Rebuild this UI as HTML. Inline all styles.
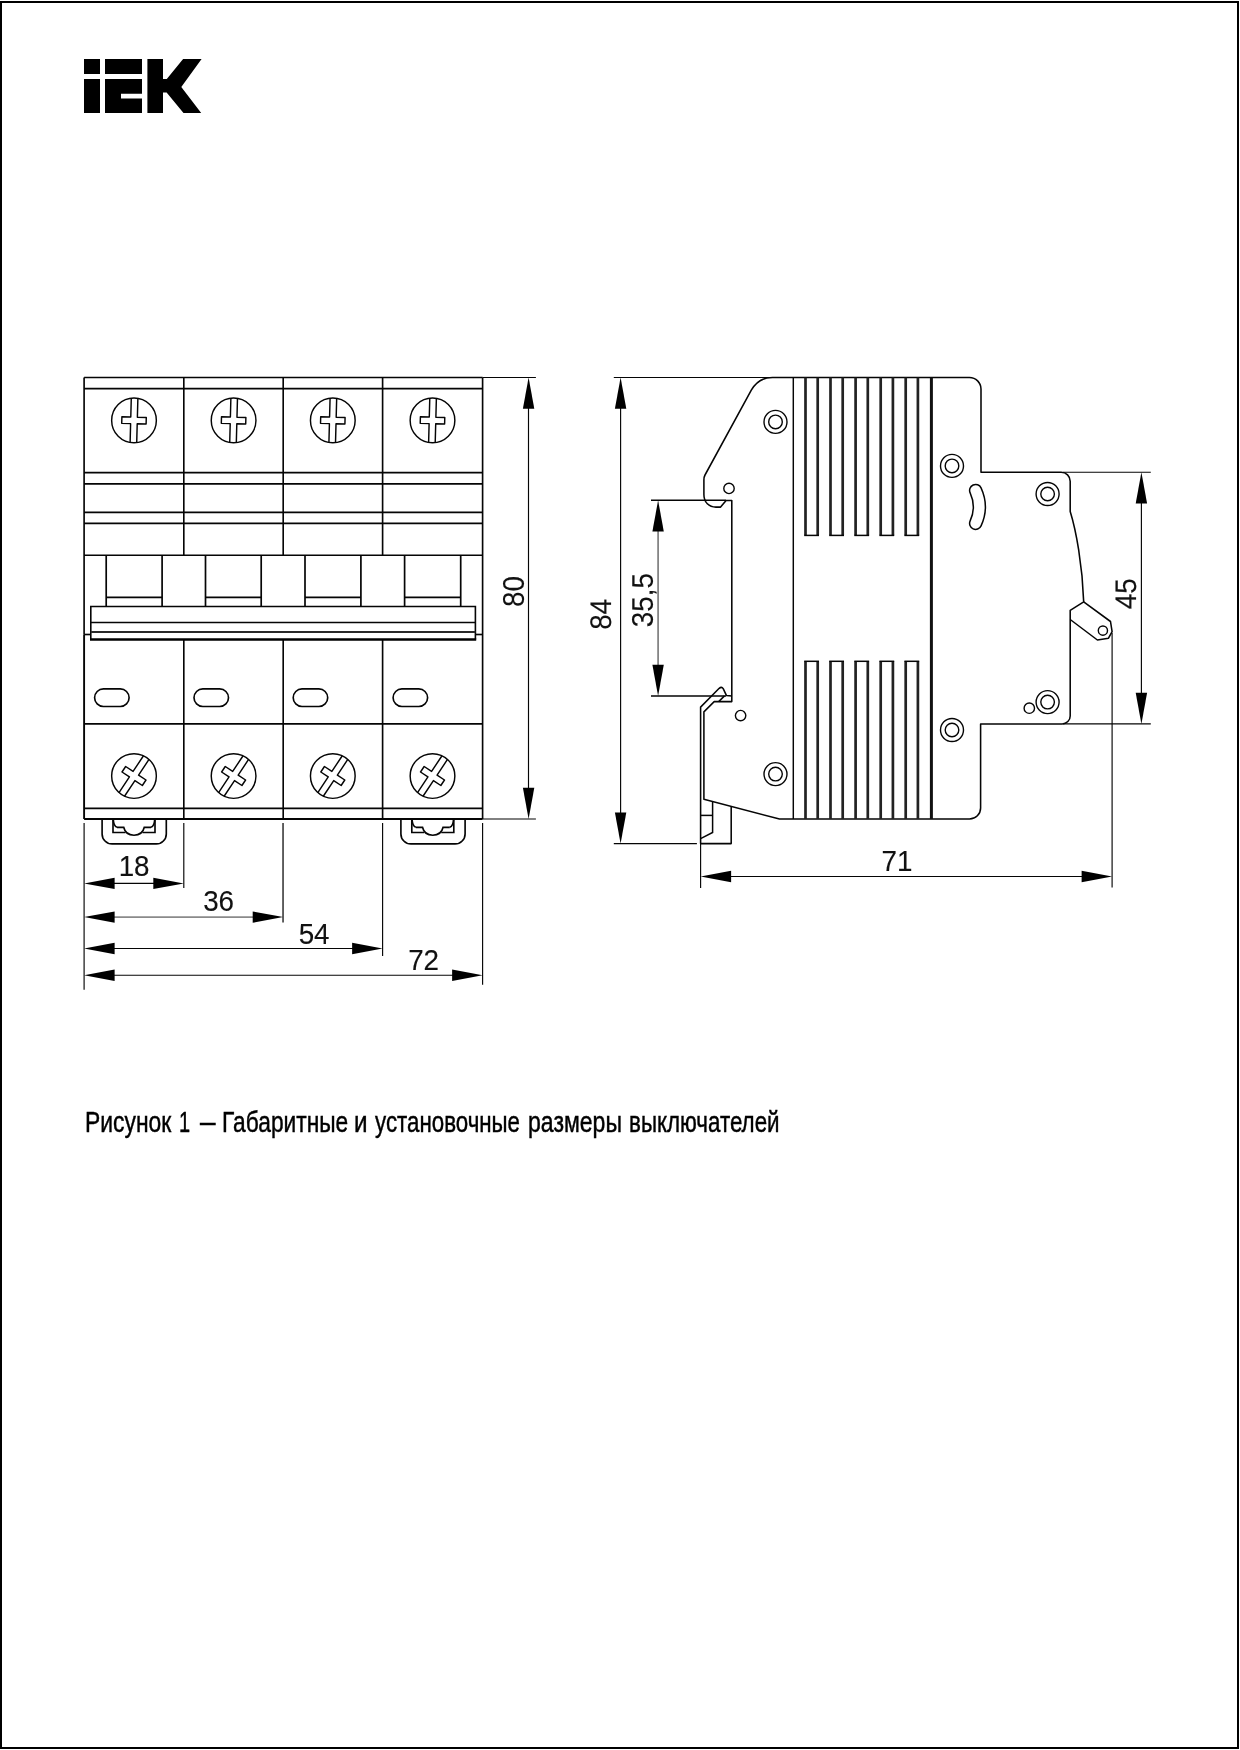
<!DOCTYPE html>
<html><head><meta charset="utf-8"><title>IEK</title>
<style>
html,body{margin:0;padding:0;background:#fff;}
body{width:1240px;height:1750px;position:relative;overflow:hidden;font-family:"Liberation Sans",sans-serif;}
.frame{position:absolute;left:0;top:1px;width:1235px;height:1744px;border:2px solid #000;border-left-width:2.5px;border-right-width:2.5px;}
.capline{position:absolute;left:0;top:1104.2px;width:1240px;height:36px;will-change:transform;}
.cap{position:absolute;top:0;font-size:28.6px;line-height:36px;color:#000;white-space:nowrap;transform-origin:0 0;-webkit-text-stroke:0.45px #000;}
svg{will-change:transform;}
</style></head><body>
<div class="frame"></div>
<svg width="1240" height="1750" viewBox="0 0 1240 1750" style="position:absolute;left:0;top:0">
<g font-family="'Liberation Sans', sans-serif" fill="#111" stroke-linecap="butt" stroke-linejoin="miter">
<g fill="#000">
<rect x="84" y="59" width="16" height="15"/>
<rect x="84" y="79" width="16" height="34"/>
<rect x="105" y="59" width="37" height="15"/>
<path d="M105,79 H142 V93.8 H121 V98.6 H142 V113 H105 Z"/>
<path d="M147.4,59 H163 V79 H166.8 L183.1,59 H201.6 L181.3,87.1 L201.2,113 H183.5 L166.6,92.4 H163 V113 H147.4 Z"/>
</g>
<line x1="84.1" y1="377.5" x2="482.6" y2="377.5" stroke="#050505" stroke-width="1.65" />
<line x1="84.1" y1="388.6" x2="482.6" y2="388.6" stroke="#050505" stroke-width="1.65" />
<line x1="84.1" y1="377.5" x2="84.1" y2="634.5" stroke="#050505" stroke-width="1.65" />
<line x1="84.1" y1="634.5" x2="84.1" y2="819.0" stroke="#050505" stroke-width="1.9" />
<line x1="482.6" y1="377.5" x2="482.6" y2="819.0" stroke="#050505" stroke-width="1.65" />
<line x1="183.8" y1="377.5" x2="183.8" y2="555.2" stroke="#050505" stroke-width="1.65" />
<line x1="183.8" y1="639.5" x2="183.8" y2="819.0" stroke="#050505" stroke-width="1.65" />
<line x1="283.2" y1="377.5" x2="283.2" y2="555.2" stroke="#050505" stroke-width="1.65" />
<line x1="283.2" y1="639.5" x2="283.2" y2="819.0" stroke="#050505" stroke-width="1.65" />
<line x1="382.6" y1="377.5" x2="382.6" y2="555.2" stroke="#050505" stroke-width="1.65" />
<line x1="382.6" y1="639.5" x2="382.6" y2="819.0" stroke="#050505" stroke-width="1.65" />
<line x1="84.1" y1="472.6" x2="482.6" y2="472.6" stroke="#050505" stroke-width="1.65" />
<line x1="84.1" y1="483.9" x2="482.6" y2="483.9" stroke="#050505" stroke-width="1.65" />
<line x1="84.1" y1="512.3" x2="482.6" y2="512.3" stroke="#050505" stroke-width="1.65" />
<line x1="84.1" y1="523.4" x2="482.6" y2="523.4" stroke="#050505" stroke-width="1.65" />
<line x1="84.1" y1="555.2" x2="482.6" y2="555.2" stroke="#050505" stroke-width="1.65" />
<line x1="84.1" y1="723.9" x2="482.6" y2="723.9" stroke="#050505" stroke-width="1.65" />
<line x1="84.1" y1="808.3" x2="482.6" y2="808.3" stroke="#050505" stroke-width="1.65" />
<line x1="84.1" y1="819.0" x2="482.6" y2="819.0" stroke="#050505" stroke-width="1.8" />
<line x1="106.2" y1="555.2" x2="106.2" y2="606.5" stroke="#050505" stroke-width="1.7" />
<line x1="162.1" y1="555.2" x2="162.1" y2="606.5" stroke="#050505" stroke-width="1.7" />
<line x1="106.2" y1="597.4" x2="162.1" y2="597.4" stroke="#050505" stroke-width="1.8" />
<line x1="205.5" y1="555.2" x2="205.5" y2="606.5" stroke="#050505" stroke-width="1.7" />
<line x1="261.2" y1="555.2" x2="261.2" y2="606.5" stroke="#050505" stroke-width="1.7" />
<line x1="205.5" y1="597.4" x2="261.2" y2="597.4" stroke="#050505" stroke-width="1.8" />
<line x1="305.0" y1="555.2" x2="305.0" y2="606.5" stroke="#050505" stroke-width="1.7" />
<line x1="360.9" y1="555.2" x2="360.9" y2="606.5" stroke="#050505" stroke-width="1.7" />
<line x1="305.0" y1="597.4" x2="360.9" y2="597.4" stroke="#050505" stroke-width="1.8" />
<line x1="404.6" y1="555.2" x2="404.6" y2="606.5" stroke="#050505" stroke-width="1.7" />
<line x1="460.7" y1="555.2" x2="460.7" y2="606.5" stroke="#050505" stroke-width="1.7" />
<line x1="404.6" y1="597.4" x2="460.7" y2="597.4" stroke="#050505" stroke-width="1.8" />
<path d="M90.8,639.6 V606.5 H475.4 V639.6" stroke="#050505" stroke-width="1.6" fill="none" />
<line x1="90.8" y1="622.4" x2="475.4" y2="622.4" stroke="#050505" stroke-width="1.5" />
<line x1="90.8" y1="631.9" x2="475.4" y2="631.9" stroke="#2a2a2a" stroke-width="2.0" />
<line x1="90.0" y1="639.5" x2="476.2" y2="639.5" stroke="#000" stroke-width="2.6" />
<line x1="84.1" y1="634.5" x2="90.8" y2="634.5" stroke="#050505" stroke-width="1.65" />
<line x1="475.4" y1="634.5" x2="482.6" y2="634.5" stroke="#050505" stroke-width="1.65" />
<rect x="94.6" y="688.9" width="34.5" height="17.6" rx="8.8" ry="8.8" fill="none" stroke="#050505" stroke-width="1.65"/>
<rect x="194.0" y="688.9" width="34.5" height="17.6" rx="8.8" ry="8.8" fill="none" stroke="#050505" stroke-width="1.65"/>
<rect x="293.2" y="688.9" width="34.5" height="17.6" rx="8.8" ry="8.8" fill="none" stroke="#050505" stroke-width="1.65"/>
<rect x="393.1" y="688.9" width="34.5" height="17.6" rx="8.8" ry="8.8" fill="none" stroke="#050505" stroke-width="1.65"/>
<circle cx="134.0" cy="420.4" r="22.35" stroke="#050505" stroke-width="1.45" fill="none"/>
<path d="M-3.3,-22.105033363467246 V-3.3 H-12.2 V3.3 H-3.3 V22.105033363467246 M3.3,-22.105033363467246 V-3.3 H12.2 V3.3 H3.3 V22.105033363467246" transform="translate(134.0 420.4) rotate(1.5)" stroke="#050505" stroke-width="1.45" fill="none" stroke-linejoin="round"/>
<circle cx="134.0" cy="776.0" r="22.35" stroke="#050505" stroke-width="1.45" fill="none"/>
<path d="M-3.3,-22.105033363467246 V-3.3 H-12.2 V3.3 H-3.3 V22.105033363467246 M3.3,-22.105033363467246 V-3.3 H12.2 V3.3 H3.3 V22.105033363467246" transform="translate(134.0 776.0) rotate(33.6)" stroke="#050505" stroke-width="1.45" fill="none" stroke-linejoin="round"/>
<circle cx="233.6" cy="420.4" r="22.35" stroke="#050505" stroke-width="1.45" fill="none"/>
<path d="M-3.3,-22.105033363467246 V-3.3 H-12.2 V3.3 H-3.3 V22.105033363467246 M3.3,-22.105033363467246 V-3.3 H12.2 V3.3 H3.3 V22.105033363467246" transform="translate(233.6 420.4) rotate(1.5)" stroke="#050505" stroke-width="1.45" fill="none" stroke-linejoin="round"/>
<circle cx="233.6" cy="776.0" r="22.35" stroke="#050505" stroke-width="1.45" fill="none"/>
<path d="M-3.3,-22.105033363467246 V-3.3 H-12.2 V3.3 H-3.3 V22.105033363467246 M3.3,-22.105033363467246 V-3.3 H12.2 V3.3 H3.3 V22.105033363467246" transform="translate(233.6 776.0) rotate(33.6)" stroke="#050505" stroke-width="1.45" fill="none" stroke-linejoin="round"/>
<circle cx="332.8" cy="420.4" r="22.35" stroke="#050505" stroke-width="1.45" fill="none"/>
<path d="M-3.3,-22.105033363467246 V-3.3 H-12.2 V3.3 H-3.3 V22.105033363467246 M3.3,-22.105033363467246 V-3.3 H12.2 V3.3 H3.3 V22.105033363467246" transform="translate(332.8 420.4) rotate(1.5)" stroke="#050505" stroke-width="1.45" fill="none" stroke-linejoin="round"/>
<circle cx="332.8" cy="776.0" r="22.35" stroke="#050505" stroke-width="1.45" fill="none"/>
<path d="M-3.3,-22.105033363467246 V-3.3 H-12.2 V3.3 H-3.3 V22.105033363467246 M3.3,-22.105033363467246 V-3.3 H12.2 V3.3 H3.3 V22.105033363467246" transform="translate(332.8 776.0) rotate(33.6)" stroke="#050505" stroke-width="1.45" fill="none" stroke-linejoin="round"/>
<circle cx="432.5" cy="420.4" r="22.35" stroke="#050505" stroke-width="1.45" fill="none"/>
<path d="M-3.3,-22.105033363467246 V-3.3 H-12.2 V3.3 H-3.3 V22.105033363467246 M3.3,-22.105033363467246 V-3.3 H12.2 V3.3 H3.3 V22.105033363467246" transform="translate(432.5 420.4) rotate(1.5)" stroke="#050505" stroke-width="1.45" fill="none" stroke-linejoin="round"/>
<circle cx="432.5" cy="776.0" r="22.35" stroke="#050505" stroke-width="1.45" fill="none"/>
<path d="M-3.3,-22.105033363467246 V-3.3 H-12.2 V3.3 H-3.3 V22.105033363467246 M3.3,-22.105033363467246 V-3.3 H12.2 V3.3 H3.3 V22.105033363467246" transform="translate(432.5 776.0) rotate(33.6)" stroke="#050505" stroke-width="1.45" fill="none" stroke-linejoin="round"/>
<path d="M102.1,819 V833.9 a10,10 0 0 0 10,10 H156.3 a10,10 0 0 0 10,-10 V819" stroke="#050505" stroke-width="1.65" fill="none" />
<path d="M113,819 V832.5 H125.6 M155,819 V832.5 H142.4" stroke="#050505" stroke-width="1.65" fill="none" />
<path d="M117,827.3 H123.7 C125,833 129,835.2 134,835.2 C139,835.2 143,833 144.3,827.3 H151" stroke="#050505" stroke-width="1.65" fill="none" />
<path d="M113.3,819.5 C113.5,823.5 114.5,826.5 117,827.3 M154.7,819.5 C154.5,823.5 153.5,826.5 151,827.3" stroke="#050505" stroke-width="1.65" fill="none" />
<path d="M400.9,819 V833.9 a10,10 0 0 0 10,10 H455.1 a10,10 0 0 0 10,-10 V819" stroke="#050505" stroke-width="1.65" fill="none" />
<path d="M411.8,819 V832.5 H424.4 M453.8,819 V832.5 H441.20000000000005" stroke="#050505" stroke-width="1.65" fill="none" />
<path d="M415.8,827.3 H422.5 C423.8,833 427.8,835.2 432.8,835.2 C437.8,835.2 441.8,833 443.1,827.3 H449.8" stroke="#050505" stroke-width="1.65" fill="none" />
<path d="M412.1,819.5 C412.3,823.5 413.3,826.5 415.8,827.3 M453.5,819.5 C453.3,823.5 452.3,826.5 449.8,827.3" stroke="#050505" stroke-width="1.65" fill="none" />
<line x1="482.6" y1="377.5" x2="535.9" y2="377.5" stroke="#050505" stroke-width="1.15" />
<line x1="482.6" y1="819.0" x2="535.9" y2="819.0" stroke="#050505" stroke-width="1.15" />
<line x1="528.5" y1="397.5" x2="528.5" y2="799.0" stroke="#050505" stroke-width="1.15" />
<polygon points="528.6,377.5 522.9,408.7 534.3000000000001,408.7" fill="#000"/>
<polygon points="528.6,819.0 522.9,787.8 534.3000000000001,787.8" fill="#000"/>
<text x="0" y="0" font-size="29.8" text-anchor="middle" stroke="#000" stroke-width="0.12" transform="translate(523.8 591.5) rotate(-89.9) scale(0.933 1)">80</text>
<line x1="84.1" y1="823" x2="84.1" y2="989.7" stroke="#050505" stroke-width="1.15" />
<line x1="183.8" y1="823" x2="183.8" y2="887.9" stroke="#050505" stroke-width="1.15" />
<line x1="283.05" y1="823" x2="283.05" y2="922.6" stroke="#5a5a5a" stroke-width="1.9" />
<line x1="382.6" y1="823" x2="382.6" y2="956" stroke="#050505" stroke-width="1.15" />
<line x1="482.6" y1="823" x2="482.6" y2="984.8" stroke="#050505" stroke-width="1.15" />
<line x1="104.1" y1="883.4" x2="163.8" y2="883.4" stroke="#050505" stroke-width="1.15" />
<polygon points="84.1,883.4 114.6,877.6999999999999 114.6,889.1" fill="#000"/>
<polygon points="183.8,883.4 153.3,877.6999999999999 153.3,889.1" fill="#000"/>
<text x="0" y="0" font-size="29.8" text-anchor="middle" stroke="#000" stroke-width="0.12" transform="translate(134.1 876.0) scale(0.933 1)">18</text>
<line x1="104.1" y1="917.1" x2="263.2" y2="917.1" stroke="#8a8a8a" stroke-width="1.8" />
<polygon points="84.1,917.1 114.6,911.4 114.6,922.8000000000001" fill="#000"/>
<polygon points="283.2,917.1 252.7,911.4 252.7,922.8000000000001" fill="#000"/>
<text x="0" y="0" font-size="29.8" text-anchor="middle" stroke="#000" stroke-width="0.12" transform="translate(218.6 911.4) scale(0.933 1)">36</text>
<line x1="104.1" y1="948.5" x2="362.6" y2="948.5" stroke="#050505" stroke-width="1.15" />
<polygon points="84.1,948.5 114.6,942.8 114.6,954.2" fill="#000"/>
<polygon points="382.6,948.5 352.1,942.8 352.1,954.2" fill="#000"/>
<text x="0" y="0" font-size="29.8" text-anchor="middle" stroke="#000" stroke-width="0.12" transform="translate(314.1 944.2) scale(0.933 1)">54</text>
<line x1="104.1" y1="975.2" x2="462.6" y2="975.2" stroke="#050505" stroke-width="1.15" />
<polygon points="84.1,975.2 114.6,969.5 114.6,980.9000000000001" fill="#000"/>
<polygon points="482.6,975.2 452.1,969.5 452.1,980.9000000000001" fill="#000"/>
<text x="0" y="0" font-size="29.8" text-anchor="middle" stroke="#000" stroke-width="0.12" transform="translate(423.6 970.0) scale(0.933 1)">72</text>
<path d="M772.5,377.5 H969.5 A11.5,11.5 0 0 1 981,389 V472.2 H1061.2 A9,9 0 0 1 1070.2,481.2 V511.4 C1076,530 1082.5,565 1083.7,601.9 L1070.2,610.4 V715.9 A8,8 0 0 1 1062.2,723.9 H980.6 V808 A11,11 0 0 1 969.6,819 H779.5 L703.9,799.3 V711.9 L714.2,701.6 H731.8 V500.4 H726.1 L720.6,507.1 H716 C709,507.1 703.9,502.5 703.9,494.5 V480 C703.9,478 704.1,476.6 705,475 L751.3,390.2 C756,382 763,377.5 772.5,377.5 Z" stroke="#050505" stroke-width="1.55" fill="none" stroke-linejoin="round"/>
<path d="M1083.7,601.9 L1110.5,621.5 L1112.1,631.6 L1108.5,638.2 L1097.4,640 L1070.2,619.5" stroke="#050505" stroke-width="1.55" fill="none" stroke-linejoin="round"/>
<circle cx="1102.9" cy="630.6" r="4.6" stroke="#050505" stroke-width="1.4" fill="none"/>
<line x1="793.3" y1="377.5" x2="793.3" y2="819" stroke="#050505" stroke-width="1.45" />
<line x1="931.4" y1="377.5" x2="931.4" y2="819" stroke="#111" stroke-width="3.0" />
<line x1="805.5" y1="377.5" x2="805.5" y2="535.4" stroke="#222" stroke-width="2.7" />
<line x1="805.5" y1="661.3" x2="805.5" y2="819" stroke="#222" stroke-width="2.7" />
<line x1="817.7" y1="377.5" x2="817.7" y2="535.4" stroke="#222" stroke-width="2.7" />
<line x1="817.7" y1="661.3" x2="817.7" y2="819" stroke="#222" stroke-width="2.7" />
<line x1="804.2" y1="535.4" x2="819.0" y2="535.4" stroke="#050505" stroke-width="1.5" />
<line x1="804.2" y1="661.3" x2="819.0" y2="661.3" stroke="#050505" stroke-width="1.5" />
<line x1="830.5" y1="377.5" x2="830.5" y2="535.4" stroke="#222" stroke-width="2.7" />
<line x1="830.5" y1="661.3" x2="830.5" y2="819" stroke="#222" stroke-width="2.7" />
<line x1="842.7" y1="377.5" x2="842.7" y2="535.4" stroke="#222" stroke-width="2.7" />
<line x1="842.7" y1="661.3" x2="842.7" y2="819" stroke="#222" stroke-width="2.7" />
<line x1="829.2" y1="535.4" x2="844.0" y2="535.4" stroke="#050505" stroke-width="1.5" />
<line x1="829.2" y1="661.3" x2="844.0" y2="661.3" stroke="#050505" stroke-width="1.5" />
<line x1="855.6" y1="377.5" x2="855.6" y2="535.4" stroke="#222" stroke-width="2.7" />
<line x1="855.6" y1="661.3" x2="855.6" y2="819" stroke="#222" stroke-width="2.7" />
<line x1="867.8000000000001" y1="377.5" x2="867.8000000000001" y2="535.4" stroke="#222" stroke-width="2.7" />
<line x1="867.8000000000001" y1="661.3" x2="867.8000000000001" y2="819" stroke="#222" stroke-width="2.7" />
<line x1="854.3000000000001" y1="535.4" x2="869.1" y2="535.4" stroke="#050505" stroke-width="1.5" />
<line x1="854.3000000000001" y1="661.3" x2="869.1" y2="661.3" stroke="#050505" stroke-width="1.5" />
<line x1="880.7" y1="377.5" x2="880.7" y2="535.4" stroke="#222" stroke-width="2.7" />
<line x1="880.7" y1="661.3" x2="880.7" y2="819" stroke="#222" stroke-width="2.7" />
<line x1="892.9000000000001" y1="377.5" x2="892.9000000000001" y2="535.4" stroke="#222" stroke-width="2.7" />
<line x1="892.9000000000001" y1="661.3" x2="892.9000000000001" y2="819" stroke="#222" stroke-width="2.7" />
<line x1="879.4000000000001" y1="535.4" x2="894.2" y2="535.4" stroke="#050505" stroke-width="1.5" />
<line x1="879.4000000000001" y1="661.3" x2="894.2" y2="661.3" stroke="#050505" stroke-width="1.5" />
<line x1="905.7" y1="377.5" x2="905.7" y2="535.4" stroke="#222" stroke-width="2.7" />
<line x1="905.7" y1="661.3" x2="905.7" y2="819" stroke="#222" stroke-width="2.7" />
<line x1="917.9000000000001" y1="377.5" x2="917.9000000000001" y2="535.4" stroke="#222" stroke-width="2.7" />
<line x1="917.9000000000001" y1="661.3" x2="917.9000000000001" y2="819" stroke="#222" stroke-width="2.7" />
<line x1="904.4000000000001" y1="535.4" x2="919.2" y2="535.4" stroke="#050505" stroke-width="1.5" />
<line x1="904.4000000000001" y1="661.3" x2="919.2" y2="661.3" stroke="#050505" stroke-width="1.5" />
<circle cx="775.5" cy="421.9" r="11.5" stroke="#050505" stroke-width="1.4" fill="none"/>
<circle cx="775.5" cy="421.9" r="6.8" stroke="#050505" stroke-width="1.4" fill="none"/>
<circle cx="952.0" cy="465.9" r="11.5" stroke="#050505" stroke-width="1.4" fill="none"/>
<circle cx="952.0" cy="465.9" r="6.8" stroke="#050505" stroke-width="1.4" fill="none"/>
<circle cx="1047.6" cy="494.0" r="11.5" stroke="#050505" stroke-width="1.4" fill="none"/>
<circle cx="1047.6" cy="494.0" r="6.8" stroke="#050505" stroke-width="1.4" fill="none"/>
<circle cx="1047.6" cy="702.1" r="11.5" stroke="#050505" stroke-width="1.4" fill="none"/>
<circle cx="1047.6" cy="702.1" r="6.8" stroke="#050505" stroke-width="1.4" fill="none"/>
<circle cx="952.0" cy="730.0" r="11.5" stroke="#050505" stroke-width="1.4" fill="none"/>
<circle cx="952.0" cy="730.0" r="6.8" stroke="#050505" stroke-width="1.4" fill="none"/>
<circle cx="775.5" cy="774.1" r="11.5" stroke="#050505" stroke-width="1.4" fill="none"/>
<circle cx="775.5" cy="774.1" r="6.8" stroke="#050505" stroke-width="1.4" fill="none"/>
<circle cx="729.0" cy="488.4" r="5.2" stroke="#050505" stroke-width="1.4" fill="none"/>
<circle cx="740.6" cy="715.6" r="5.2" stroke="#050505" stroke-width="1.4" fill="none"/>
<circle cx="1029.3" cy="708.2" r="5.2" stroke="#050505" stroke-width="1.4" fill="none"/>
<path d="M981.06,487.9 A45.6,45.6 0 0 1 981.06,525.9 A6,6 0 0 1 970.15,520.9 A33.6,33.6 0 0 0 970.15,492.9 A6,6 0 0 1 981.06,487.9 Z" stroke="#050505" stroke-width="1.5" fill="none" />
<path d="M731.8,696.1 L726.5,695.6 L723.2,688.6 Q721.5,686.3 719.2,688.3 L700.6,707.1 V843.6 H731.2 V806.4" stroke="#050505" stroke-width="1.55" fill="none" stroke-linejoin="round"/>
<line x1="718.7" y1="701.6" x2="724.5" y2="695.9" stroke="#050505" stroke-width="1.5" />
<path d="M712.6,802 V832.5 L700.6,838.6" stroke="#050505" stroke-width="1.5" fill="none" />
<line x1="700.6" y1="815.4" x2="712.6" y2="815.4" stroke="#050505" stroke-width="1.5" />
<line x1="613.8" y1="377.5" x2="772.5" y2="377.5" stroke="#050505" stroke-width="1.15" />
<line x1="613.8" y1="843.6" x2="696.9" y2="843.6" stroke="#050505" stroke-width="1.15" />
<line x1="620.6" y1="397" x2="620.6" y2="824" stroke="#050505" stroke-width="1.15" />
<polygon points="620.6,377.5 614.9,408.7 626.3000000000001,408.7" fill="#000"/>
<polygon points="620.6,843.6 614.9,812.4 626.3000000000001,812.4" fill="#000"/>
<text x="0" y="0" font-size="29.8" text-anchor="middle" stroke="#000" stroke-width="0.12" transform="translate(611 614.4) rotate(-89.9) scale(0.933 1)">84</text>
<line x1="651" y1="500.3" x2="726" y2="500.3" stroke="#050505" stroke-width="1.4" />
<line x1="651" y1="696.0" x2="726" y2="696.0" stroke="#050505" stroke-width="1.4" />
<line x1="658.1" y1="520" x2="658.1" y2="676" stroke="#858585" stroke-width="1.8" />
<polygon points="658.1,500.3 652.4,531.5 663.8000000000001,531.5" fill="#000"/>
<polygon points="658.1,696.0 652.4,664.8 663.8000000000001,664.8" fill="#000"/>
<text x="0" y="0" font-size="29.8" text-anchor="middle" stroke="#000" stroke-width="0.12" transform="translate(652.7 600.1) rotate(-89.9) scale(0.933 1)">35,5</text>
<line x1="1063" y1="472.2" x2="1150.8" y2="472.2" stroke="#050505" stroke-width="1.15" />
<line x1="1063" y1="723.9" x2="1150.8" y2="723.9" stroke="#050505" stroke-width="1.15" />
<line x1="1141.4" y1="492" x2="1141.4" y2="704" stroke="#050505" stroke-width="1.15" />
<polygon points="1141.4,472.2 1135.7,503.4 1147.1000000000001,503.4" fill="#000"/>
<polygon points="1141.4,723.9 1135.7,692.6999999999999 1147.1000000000001,692.6999999999999" fill="#000"/>
<text x="0" y="0" font-size="29.8" text-anchor="middle" stroke="#000" stroke-width="0.12" transform="translate(1136.1 593.8) rotate(-89.9) scale(0.933 1)">45</text>
<line x1="700.6" y1="843.6" x2="700.6" y2="888" stroke="#050505" stroke-width="1.15" />
<line x1="1112.1" y1="633" x2="1112.1" y2="887.6" stroke="#050505" stroke-width="1.15" />
<line x1="720" y1="876.5" x2="1092" y2="876.5" stroke="#050505" stroke-width="1.15" />
<polygon points="700.6,876.5 731.1,870.8 731.1,882.2" fill="#000"/>
<polygon points="1112.1,876.5 1081.6,870.8 1081.6,882.2" fill="#000"/>
<text x="0" y="0" font-size="29.8" text-anchor="middle" stroke="#000" stroke-width="0.12" transform="translate(897.0 870.7) scale(0.933 1)">71</text>
</g></svg>
<div class="capline"><span class="cap" style="left:85.22px;transform:scaleX(0.8)">Рисунок</span> <span class="cap" style="left:179.0px;transform:scaleX(0.7)">1</span> <span class="cap" style="left:200.0px;transform:scaleX(0.975)">–</span> <span class="cap" style="left:221.9px;transform:scaleX(0.796)">Габаритные</span> <span class="cap" style="left:354.22px;transform:scaleX(0.849)">и</span> <span class="cap" style="left:375.15px;transform:scaleX(0.78)">установочные</span> <span class="cap" style="left:527.91px;transform:scaleX(0.806)">размеры</span> <span class="cap" style="left:628.55px;transform:scaleX(0.782)">выключателей</span></div>
</body></html>
